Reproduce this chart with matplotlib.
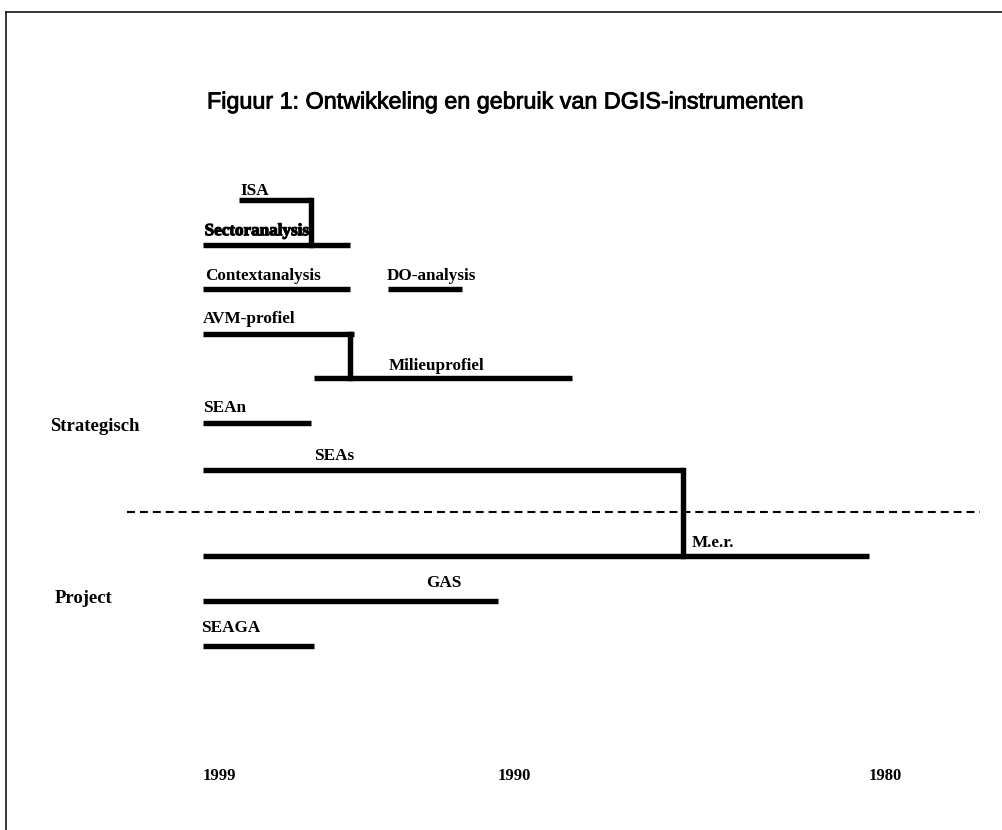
import numpy as np
import matplotlib
matplotlib.use('Agg')
from matplotlib import pyplot as plt
import matplotlib.patheffects as pe

# instruments: label, row (top = 0), start year, end year
labels = ['ISA', 'Sectoranalysis', 'Contextanalysis', 'DO-analysis', 'AVM-profiel',
          'Milieuprofiel', 'SEAn', 'SEAs', 'M.e.r.', 'GAS', 'SEAGA']
rows = [0, 1, 2, 2, 3, 4, 5, 6.05, 8, 9, 10]
start_year = [1997.9, 1999, 1999, 1993.35, 1999, 1995.6, 1999, 1999, 1999, 1999, 1999]
end_year = [1995.7, 1994.5, 1994.5, 1991.1, 1994.4, 1988, 1995.7, 1985, 1980, 1990, 1995.6]

# where each label sits (left edge year, baseline row)
label_year = [1997.85, 1998.95, 1998.95, 1993.4, 1999, 1993.35, 1999, 1995.6, 1984.77, 1992.2, 1999.05]
label_row = [-0.11, 0.79, 1.80, 1.80, 2.76, 3.82, 4.76, 5.84, 7.79, 8.69, 9.70]

# vertical links: year, from row, to row
link_year = [1995.7, 1994.5, 1985]
link_from = [0, 3, 6.05]
link_to = [1, 4, 8]

year_ticks = [1999, 1990, 1980]
groups = ['Strategisch', 'Project']
group_row = [5.19, 9.05]
title = 'Figuur 1: Ontwikkeling en gebruik van DGIS-instrumenten'

# layout of the time axis in the reference (pixels), it is not linear
TICK_PX = [203, 498, 869]
ROW_PX0, ROW_STEP = 200, 44.55
W, H = 1003, 830


def year_to_px(y):
    y = np.asarray(y, dtype=float)
    left = (TICK_PX[1] - TICK_PX[0]) / (year_ticks[0] - year_ticks[1])
    right = (TICK_PX[2] - TICK_PX[1]) / (year_ticks[1] - year_ticks[2])
    return np.where(y >= 1990, TICK_PX[1] - (y - 1990) * left,
                    TICK_PX[1] + (1990 - y) * right)


def px_to_year(p):
    p = np.asarray(p, dtype=float)
    left = (TICK_PX[1] - TICK_PX[0]) / (year_ticks[0] - year_ticks[1])
    right = (TICK_PX[2] - TICK_PX[1]) / (year_ticks[1] - year_ticks[2])
    return np.where(p <= TICK_PX[1], 1990 + (TICK_PX[1] - p) / left,
                    1990 - (p - TICK_PX[1]) / right)


def px_to_row(p):
    return (p - ROW_PX0) / ROW_STEP


fig = plt.figure(figsize=(W / 100, H / 100), dpi=100)
ax = fig.add_axes([6 / W, 0, (W - 6) / W, (H - 12) / H])
ax.set_xscale('function', functions=(lambda y: -year_to_px(y), lambda v: px_to_year(-v)))
ax.set_xlim(float(px_to_year(6)), float(px_to_year(W)))
ax.set_ylim(px_to_row(H), px_to_row(12))
ax.set_xticks([])
ax.set_yticks([])
for s in ['right', 'bottom']:
    ax.spines[s].set_visible(False)
for s in ['top', 'left']:
    ax.spines[s].set_linewidth(1.1)

serif = dict(family='Liberation Serif', fontweight='bold', ha='left', va='baseline')

for i, lab in enumerate(labels):
    ax.plot([start_year[i], end_year[i]], [rows[i], rows[i]], color='black',
            lw=3.9, solid_capstyle='butt', zorder=2)
    t = ax.text(label_year[i], label_row[i], lab, fontsize=12.3, **serif)
    if lab == 'Sectoranalysis':
        t.set_path_effects([pe.withStroke(linewidth=0.8, foreground='black')])

for x, r0, r1 in zip(link_year, link_from, link_to):
    ax.plot([x, x], [r0, r1], color='black', lw=3.9, solid_capstyle='projecting', zorder=3)

# separator between strategic and project level
ax.plot([float(px_to_year(127)), float(px_to_year(980))], [7, 7], color='black',
        lw=1.5, dashes=(3.8, 2.4), zorder=1)

for g, r in zip(groups, group_row):
    ax.text(float(px_to_year(50 if g == 'Strategisch' else 55)), r, g, fontsize=13.5, **serif)

for yr in year_ticks:
    ax.text(yr, px_to_row(780), str(yr), fontsize=12, **serif)

tt = ax.text(float(px_to_year(207)), px_to_row(108.5), title, family='Liberation Sans',
             fontsize=16.8, ha='left', va='baseline')
tt.set_path_effects([pe.withStroke(linewidth=0.6, foreground='black')])

fig.savefig('out.png', dpi=100)
